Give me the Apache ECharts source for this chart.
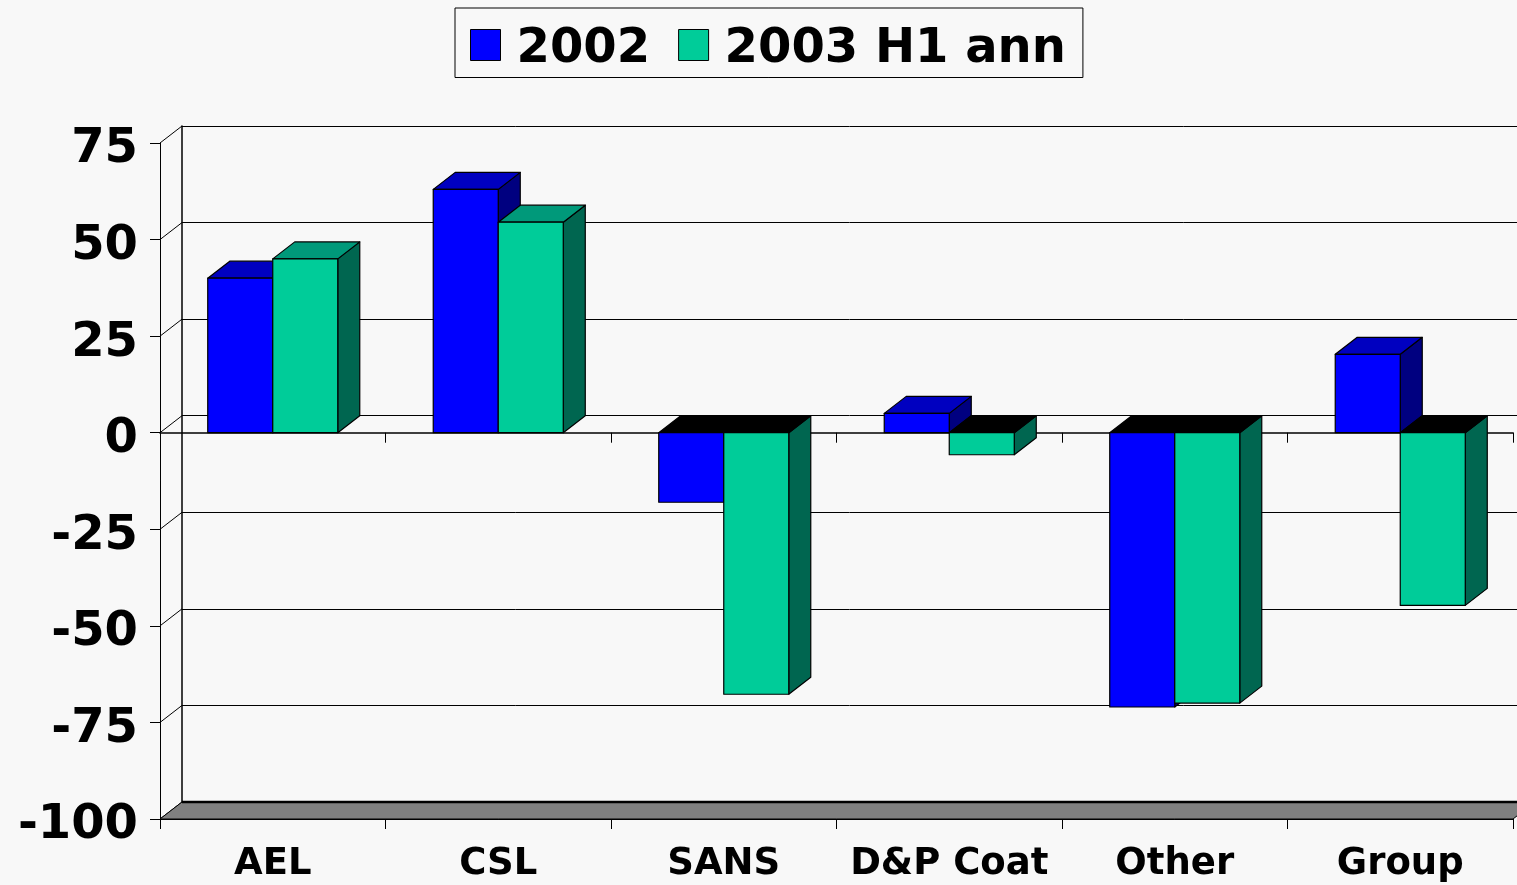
<!DOCTYPE html>
<html>
<head>
<meta charset="utf-8">
<script src="https://cdn.jsdelivr.net/npm/echarts@6/dist/echarts.min.js"></script>
<style>
html,body{margin:0;padding:0;background:#F8F8F8;}
#chart{width:1517px;height:885px;}
</style>
</head>
<body>
<div id="chart"></div>
<script>
// ---- data ----
const categories = ['AEL', 'CSL', 'SANS', 'D&P Coat', 'Other', 'Group'];
const seriesNames = ['2002', '2003 H1 ann'];
const values2002 = [40, 63, -18, 5, -71, 20.3];
const values2003H1 = [45, 54.5, -67.7, -5.7, -70, -44.7];
const yTicks = [-100, -75, -50, -25, 0, 25, 50, 75];

// ---- style ----
const FONT = 'DejaVu Sans';
const DX = 22, DY = -17;          // 3D depth offset
const BAR_FRAC = 0.2883;          // bar width as fraction of category band
const COLORS = [
  {front: '#0000FF', top: '#0000C0', side: '#000080'},
  {front: '#00CC99', top: '#00997A', side: '#006650'}
];

function barRenderer(sIdx) {
  const c = COLORS[sIdx];
  return function (params, api) {
    const cat = api.value(0), val = api.value(1);
    const pZero = api.coord([cat, 0]);
    const pVal = api.coord([cat, val]);
    const band = api.size([1, 0])[0];
    const w = band * BAR_FRAC;
    const x0 = pZero[0] - w + sIdx * w;
    const x1 = x0 + w;
    const yz = pZero[1], yv = pVal[1];
    const stroke = {stroke: '#000', lineWidth: 1.2, lineJoin: 'round'};
    const children = [];
    if (val >= 0) {
      children.push({type: 'polygon', shape: {points: [[x1, yv], [x1 + DX, yv + DY], [x1 + DX, yz + DY], [x1, yz]]},
        style: Object.assign({fill: c.side}, stroke)});
      children.push({type: 'polygon', shape: {points: [[x0, yv], [x0 + DX, yv + DY], [x1 + DX, yv + DY], [x1, yv]]},
        style: Object.assign({fill: c.top}, stroke)});
      children.push({type: 'rect', shape: {x: x0, y: yv, width: w, height: yz - yv},
        style: Object.assign({fill: c.front}, stroke)});
    } else {
      children.push({type: 'polygon', shape: {points: [[x1, yz], [x1 + DX, yz + DY], [x1 + DX, yv + DY], [x1, yv]]},
        style: Object.assign({fill: c.side}, stroke)});
      children.push({type: 'polygon', shape: {points: [[x0, yz], [x0 + DX, yz + DY], [x1 + DX, yz + DY], [x1, yz]]},
        style: Object.assign({fill: '#000000'}, stroke)});
      children.push({type: 'rect', shape: {x: x0, y: yz, width: w, height: yv - yz},
        style: Object.assign({fill: c.front}, stroke)});
    }
    return {type: 'group', children: children};
  };
}

const chart = echarts.init(document.getElementById('chart'), null, {renderer: 'canvas'});

const yBase = {type: 'value', min: -100, max: 75, interval: 25};

chart.setOption({
  backgroundColor: '#F8F8F8',
  animation: false,
  legend: {
    left: 455, top: 8,
    padding: [13, 17, 4, 15],
    borderColor: '#000', borderWidth: 1,
    itemWidth: 30, itemHeight: 31, itemGap: 28,
    icon: 'rect',
    formatter: function (name) { return '{s|}{t|' + name + '}'; },
    textStyle: {
      fontFamily: FONT, fontWeight: 'bold', fontSize: 48, color: '#000',
      rich: {
        s: {height: 57, width: 0},
        t: {fontFamily: FONT, fontWeight: 'bold', fontSize: 48, color: '#000', lineHeight: 47,
            verticalAlign: 'bottom', padding: [0, 0, 0, 11]}
      }
    },
    data: seriesNames.map((n, i) => ({name: n, itemStyle: {color: COLORS[i].front, borderColor: '#000', borderWidth: 1}}))
  },
  grid: [
    {left: 160, top: 143, width: 1353, height: 676},
    {left: 182, top: 126, width: 1353, height: 676}
  ],
  xAxis: [
    {type: 'category', gridIndex: 0, data: categories, position: 'bottom',
      axisLine: {onZero: false, lineStyle: {color: '#000', width: 1}},
      axisTick: {show: true, length: 10, lineStyle: {color: '#000'}},
      axisLabel: {fontFamily: FONT, fontWeight: 'bold', fontSize: 37, color: '#000', margin: 27, interval: 0}},
    {type: 'category', gridIndex: 0, data: categories, position: 'bottom',
      axisLine: {onZero: true, lineStyle: {color: '#000', width: 1.5}},
      axisTick: {show: true, length: 10, lineStyle: {color: '#000'}},
      axisLabel: {show: false}},
    {type: 'category', gridIndex: 1, data: categories, show: false}
  ],
  yAxis: [
    Object.assign({}, yBase, {gridIndex: 0,
      axisLine: {show: true, lineStyle: {color: '#000', width: 1}},
      axisTick: {show: true, length: 10, lineStyle: {color: '#000'}},
      splitLine: {show: false},
      axisLabel: {fontFamily: FONT, fontWeight: 'bold', fontSize: 48, color: '#000', margin: 22,
        verticalAlign: 'top', lineHeight: 14}}),
    Object.assign({}, yBase, {gridIndex: 1,
      axisLine: {show: true, lineStyle: {color: '#000', width: 1.5}},
      axisTick: {show: false},
      axisLabel: {show: false},
      splitLine: {show: true, lineStyle: {color: '#000', width: 1}}})
  ],
  series: [
    { // left side-wall diagonals
      type: 'custom', xAxisIndex: 0, yAxisIndex: 0, silent: true, z: 1,
      data: yTicks.map(v => [0, v]),
      renderItem: function (params, api) {
        const y = api.coord([0, api.value(1)])[1];
        const x = params.coordSys.x;
        return {type: 'line', shape: {x1: x, y1: y, x2: x + DX, y2: y + DY}, style: {stroke: '#000', lineWidth: 1}};
      }
    },
    { // floor
      type: 'custom', xAxisIndex: 0, yAxisIndex: 0, silent: true, z: 1,
      data: [[0, yTicks[0]]],
      renderItem: function (params, api) {
        const cs = params.coordSys;
        const y = api.coord([0, api.value(1)])[1];
        return {type: 'group', children: [
          {type: 'polygon', shape: {points: [[cs.x, y], [cs.x + DX, y + DY], [cs.x + cs.width + DX, y + DY], [cs.x + cs.width, y]]},
            style: {fill: '#808080', stroke: '#000', lineWidth: 1}},
          {type: 'line', shape: {x1: cs.x + DX, y1: y + DY, x2: cs.x + cs.width + DX, y2: y + DY}, style: {stroke: '#000', lineWidth: 2.5}}
        ]};
      }
    },
    {
      name: seriesNames[0], type: 'custom', xAxisIndex: 0, yAxisIndex: 0, z: 3,
      itemStyle: {color: COLORS[0].front, borderColor: '#000', borderWidth: 1},
      data: values2002.map((v, i) => [i, v]),
      renderItem: barRenderer(0)
    },
    {
      name: seriesNames[1], type: 'custom', xAxisIndex: 0, yAxisIndex: 0, z: 3,
      itemStyle: {color: COLORS[1].front, borderColor: '#000', borderWidth: 1},
      data: values2003H1.map((v, i) => [i, v]),
      renderItem: barRenderer(1)
    }
  ]
});
</script>
</body>
</html>
